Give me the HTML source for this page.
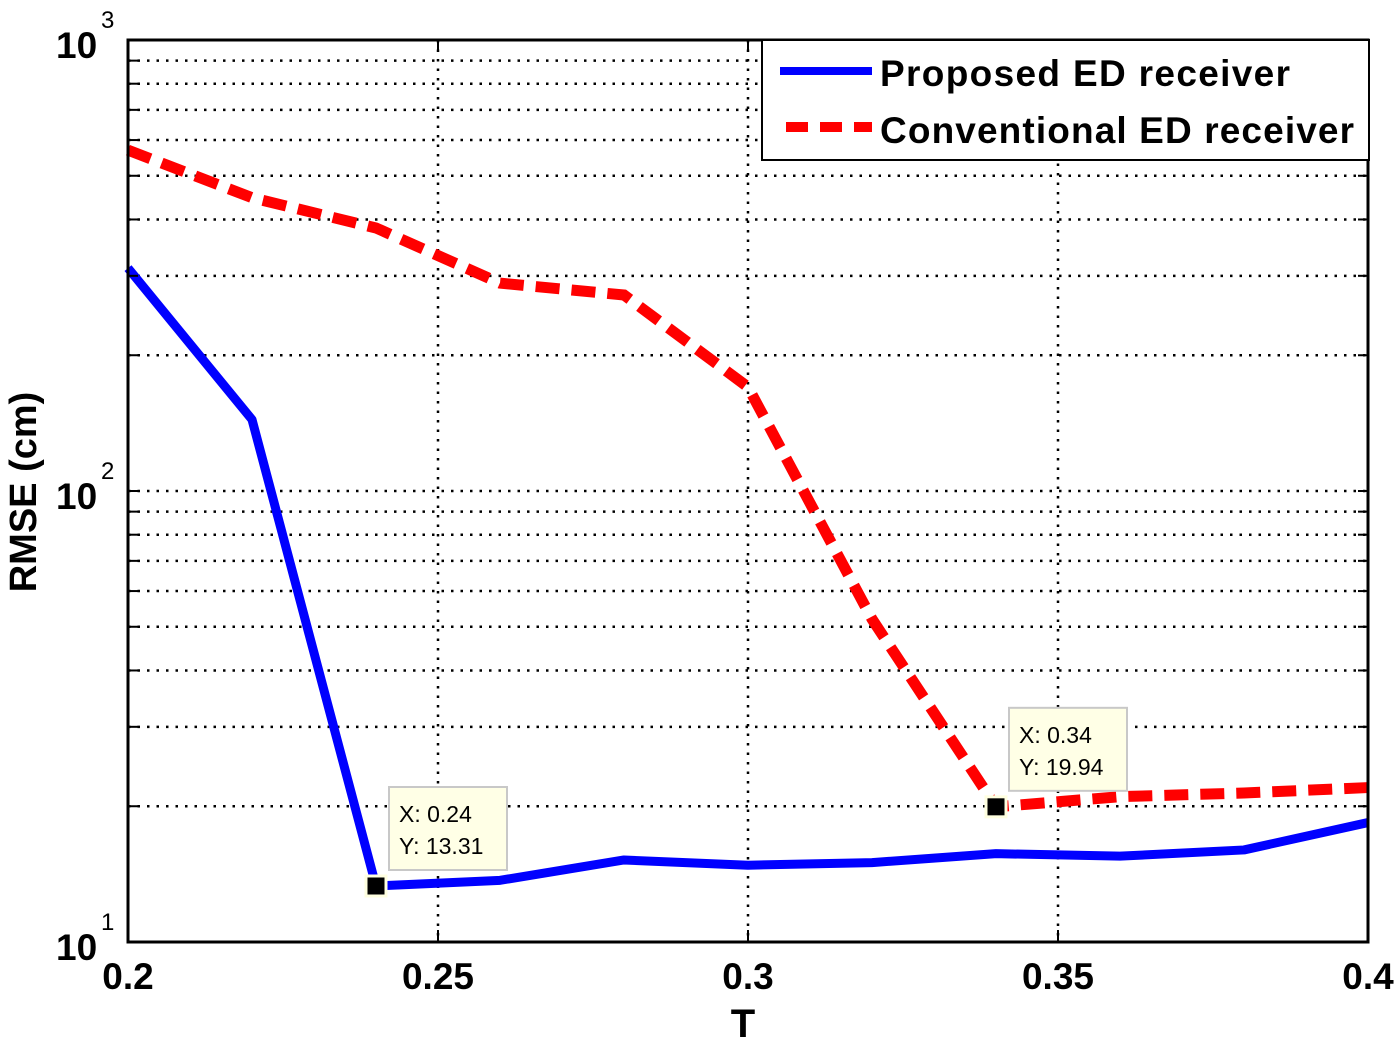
<!DOCTYPE html>
<html><head><meta charset="utf-8"><style>
body{margin:0;background:#fff}
svg text{font-family:"Liberation Sans",Arial,sans-serif}
</style></head><body>
<svg id="chart" width="1400" height="1042" xmlns="http://www.w3.org/2000/svg">
<rect width="1400" height="1042" fill="#fff"/>
<g id="grid"></g><g id="series"></g><g id="axes"></g><g id="tips"></g>
<g id="legend">
<rect x="762" y="40" width="607" height="120" fill="#fff" stroke="#000" stroke-width="2"/>
<line x1="780" y1="71" x2="872" y2="71" stroke="#0000ff" stroke-width="8"/>
<text x="880" y="86" font-size="37" font-weight="bold" textLength="410">Proposed ED receiver</text>
<line x1="786" y1="127" x2="872" y2="127" stroke="#ff0000" stroke-width="10" stroke-dasharray="22,12"/>
<text x="880" y="143" font-size="37" font-weight="bold" textLength="474">Conventional ED receiver</text>
</g>
<text x="743" y="1037" font-size="40" font-weight="bold" text-anchor="middle">T</text>
<text transform="translate(36,492) rotate(-90)" font-size="38" font-weight="bold" text-anchor="middle">RMSE (cm)</text>
</svg>
<script>
const tValues=[0.20,0.22,0.24,0.26,0.28,0.30,0.32,0.34,0.36,0.38,0.40];
const proposed=[312,144,13.31,13.7,15.2,14.8,15.0,15.7,15.5,16.0,18.4];
const conventional=[570,447,383,289,272,170,52,19.94,21,21.4,22];
const xTicks=[0.2,0.25,0.3,0.35,0.4];
const xTickLabels=["0.2","0.25","0.3","0.35","0.4"];
const yDecades=[1,2,3];
const tipPoints=[[0.24,13.31],[0.34,19.94]];

const L=128,R=1368,T=40,B=942,NS="http://www.w3.org/2000/svg";
const xs=v=>L+(v-0.2)/0.2*(R-L);
const ys=v=>B-(Math.log10(v)-1)/2*(B-T);
function mk(tag,attrs,parent){const e=document.createElementNS(NS,tag);for(const k in attrs)e.setAttribute(k,attrs[k]);parent.appendChild(e);return e;}
const grid=document.getElementById('grid'),axes=document.getElementById('axes'),series=document.getElementById('series'),tips=document.getElementById('tips');
for(let d=1;d<3;d++)for(let m=1;m<10;m++){
  const v=m*Math.pow(10,d),y=ys(v);
  if(d===1&&m===1)continue;
  const g=mk('line',{x1:L,x2:R,y1:y,y2:y,stroke:'#000','stroke-width':2.5,'stroke-dasharray':'2.5,7'},grid);
  
  
  const t1=mk('line',{x1:L,x2:L+10,y1:y,y2:y,stroke:'#000','stroke-width':2},axes);
  
  
  const t2=mk('line',{x1:R-10,x2:R,y1:y,y2:y,stroke:'#000','stroke-width':2},axes);
  
  
}
xTicks.forEach((v,i)=>{
  const x=xs(v);
  if(i>0&&i<xTicks.length-1){
    const g=mk('line',{x1:x,x2:x,y1:T,y2:B,stroke:'#000','stroke-width':2.5,'stroke-dasharray':'2.5,7'},grid);
    
    
    const a=mk('line',{x1:x,x2:x,y1:B-12,y2:B,stroke:'#000','stroke-width':2},axes);
    
    
    const b=mk('line',{x1:x,x2:x,y1:T,y2:T+12,stroke:'#000','stroke-width':2},axes);
    
    
  }
  const t=mk('text',{x:x,y:989,'font-size':37,'font-weight':'bold','text-anchor':'middle'},axes);
  t.textContent=xTickLabels[i];
  
  
});
yDecades.forEach(d=>{
  const y=ys(Math.pow(10,d));
  const t=mk('text',{x:56,y:y+18,'font-size':37,'font-weight':'bold'},axes);
  t.textContent='10';
  
  
  const s=mk('text',{x:101,y:y-12,'font-size':24},axes);
  s.textContent=String(d);
  
  
});
const frame=mk('rect',{x:L,y:T,width:R-L,height:B-T,fill:'none',stroke:'#000','stroke-width':3},axes);


const pts=a=>a.map((v,i)=>xs(tValues[i])+','+ys(v)).join(' ');
const red=mk('polyline',{points:pts(conventional),fill:'none',stroke:'#ff0000','stroke-width':11,'stroke-dasharray':'24,12'},series);


const blue=mk('polyline',{points:pts(proposed),fill:'none',stroke:'#0000ff','stroke-width':9,'stroke-linejoin':'round'},series);


tipPoints.forEach(p=>{
  const x=xs(p[0]),y=ys(p[1]);
  const m=mk('rect',{x:x-10,y:y-10,width:20,height:20,fill:'#000',stroke:'#ffffe0','stroke-width':3},tips);
  
  
  const bx=x+13,by=y-99;
  const b=mk('rect',{x:bx,y:by,width:118,height:83,fill:'#ffffe6',stroke:'#c8c8c8','stroke-width':2},tips);
  
  
  const t1=mk('text',{x:bx+10,y:by+35,'font-size':23},tips);
  t1.textContent='X: '+p[0];
  
  
  const t2=mk('text',{x:bx+10,y:by+67,'font-size':23},tips);
  t2.textContent='Y: '+p[1];
  
  
});
</script>
</body></html>
